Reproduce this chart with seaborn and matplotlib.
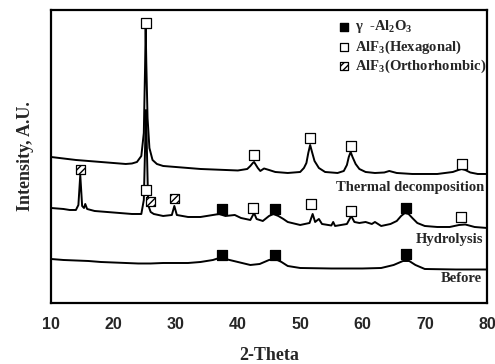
import matplotlib
matplotlib.use("Agg")
import matplotlib.pyplot as plt
import seaborn as sns
import pandas as pd

# ---------------- data ----------------
thermal_x = [10, 12, 14, 16, 18, 20, 22, 23.0, 23.8, 24.5, 24.9, 25.1, 25.2, 25.3, 25.5, 25.8, 26.3, 27, 28, 30,
             32, 34, 36, 38, 40, 41.5, 42.0, 42.4, 42.6, 42.8, 43.2, 43.6, 44.2, 45, 46, 48, 50, 50.6, 51.0, 51.3,
             51.6, 51.9, 52.3, 53, 54, 56, 57.0, 57.5, 57.8, 58.1, 58.4, 58.9, 59.5, 60.5, 62, 63.5, 64.3, 65.5,
             68, 72, 74.5, 75.4, 75.9, 76.5, 77.3, 78.5, 80]
thermal_y = [146, 144.5, 143, 142, 141, 140, 139, 139.5, 141, 147, 170, 235, 275, 240, 185, 155, 143, 139, 137, 136,
             135, 134, 133.5, 133, 132.5, 134, 137, 140, 141, 139, 135, 132, 134.5, 133, 131, 130, 131, 135, 140,
             150, 158, 151, 142, 135, 131, 130, 132, 138, 146, 151, 146, 139, 134, 131, 130, 130.5, 132, 130,
             129, 129, 131, 133, 134, 133, 130.5, 129, 129]

hydro_x = [10, 11, 12, 13, 14, 14.4, 14.7, 15.0, 15.3, 15.5, 15.8, 17, 19, 21, 23, 24.5, 24.9, 25.25, 25.6, 26.0,
           26.5, 28, 29.4, 29.8, 30.2, 32, 34, 36, 37, 38, 39.5, 40.5, 42, 42.6, 43.0, 44, 45, 45.7, 46.5, 47.3,
           48, 50, 51.5, 52.0, 52.4, 53, 53.5, 55, 55.3, 55.6, 57.5, 58.2, 58.7, 59.5, 60.5, 61.5, 62, 63, 64.5,
           65.5, 66.2, 66.8, 67.4, 68, 68.8, 70, 72, 74, 75.5, 76.5, 78, 80]
hydro_y = [95, 94.5, 94, 93, 93, 98, 128, 97, 95, 99, 94, 92, 91, 90, 89, 89, 103, 193, 98, 91,
           89, 87, 88, 97, 88, 86, 86, 88, 89, 87, 88, 85, 83, 90, 84, 82, 87, 89, 87, 84,
           81, 78, 80, 89, 81, 84, 79, 77.5, 81, 77, 79, 87, 81, 80, 81, 79, 81, 77, 79,
           82, 87, 90, 89, 85, 80, 77, 76, 76, 78, 78.5, 76, 75]

before_x = [10, 12, 14, 16, 18, 20, 22, 24, 26, 28, 30, 32, 34, 36, 37, 38, 40, 42, 43.5, 45, 46, 47, 48, 50,
            55, 60, 63, 65, 66.5, 67.5, 68.5, 70, 75, 80]
before_y = [44, 43, 42.5, 42, 41, 40.5, 40, 39.5, 39.5, 40, 40, 40, 41, 43, 45, 44, 41, 38, 39, 43, 44, 41, 37, 35,
            34.5, 34.5, 35, 38, 42, 42, 38, 34, 33.5, 33.5]

# phase markers
gamma_x = [37.4, 46.0, 67.0, 37.4, 46.0, 67.0]
gamma_y = [94, 94, 95, 48, 48, 49]
hex_x = [25.2, 42.6, 51.6, 58.1, 75.9, 25.2, 42.5, 51.7, 58.1, 75.8]
hex_y = [280, 148, 165, 157, 139, 113, 95, 99, 92, 86]
ortho_x = [14.7, 25.9, 29.8]
ortho_y = [133, 101, 104]

curve_labels = ["Thermal decomposition", "Hydrolysis", "Before"]
legend_labels = [r"γ  -Al$\mathregular{_2}$O$\mathregular{_3}$",
                 r"AlF$\mathregular{_3}$(Hexagonal)",
                 r"AlF$\mathregular{_3}$(Orthorhombic)"]
xticks = [10, 20, 30, 40, 50, 60, 70, 80]

# ---------------- style ----------------
sns.set_style("white")
plt.rcParams["font.family"] = ["Liberation Serif", "DejaVu Serif"]
plt.rcParams["hatch.linewidth"] = 1.0

fig = plt.figure(figsize=(4.95, 3.64), dpi=100)
ax = fig.add_axes([0.103, 0.1676, 0.881, 0.805])

for xs, ys in [(thermal_x, thermal_y), (hydro_x, hydro_y), (before_x, before_y)]:
    df = pd.DataFrame({"x": xs, "y": ys})
    sns.lineplot(data=df, x="x", y="y", ax=ax, color="black", lw=1.4, sort=False)

ms = 42
sns.scatterplot(x=hex_x, y=hex_y, ax=ax, marker="s", s=ms, facecolor="white", edgecolor="black",
                linewidth=0.9, zorder=5)
sns.scatterplot(x=gamma_x, y=gamma_y, ax=ax, marker="s", s=ms, color="black", edgecolor="black",
                linewidth=0.9, zorder=5)
ax.scatter(ortho_x, ortho_y, marker="s", s=ms, facecolor="white", edgecolor="black",
           linewidths=0.9, hatch="/////", zorder=5)

# curve labels
lab_pos = [(79.6, 115), (79.4, 63), (79.1, 24)]
for t, (x, y) in zip(curve_labels, lab_pos):
    ax.text(x, y, t, ha="right", va="center", fontsize=10.5, fontweight="bold")

# legend drawn manually
leg_y = [276, 256, 237]
leg_mx = 57.0
ax.scatter([leg_mx], [leg_y[0]], marker="s", s=34, color="black", zorder=5)
ax.scatter([leg_mx], [leg_y[1]], marker="s", s=34, facecolor="white", edgecolor="black", linewidths=0.9, zorder=5)
ax.scatter([leg_mx], [leg_y[2]], marker="s", s=34, facecolor="white", edgecolor="black", linewidths=0.9,
           hatch="/////", zorder=5)
for t, y in zip(legend_labels, leg_y):
    ax.text(58.8, y, t, ha="left", va="center", fontsize=10.5, fontweight="bold")

ax.set_xlim(10, 80)
ax.set_ylim(0, 293)
ax.set_xticks(xticks)
ax.set_xticklabels([str(v) for v in xticks], fontfamily="Liberation Sans", fontweight="bold", fontsize=11.5)
ax.set_yticks([])
ax.tick_params(axis="x", direction="out", length=4, width=1.2, color="black", pad=6)
for s in ax.spines.values():
    s.set_color("black")
    s.set_linewidth(1.6)
ax.set_xlabel("2-Theta", fontsize=13, fontweight="bold", labelpad=11)
ax.set_ylabel("Intensity, A.U.", fontsize=13, fontweight="bold", labelpad=12)

fig.savefig("out.png", dpi=100)
